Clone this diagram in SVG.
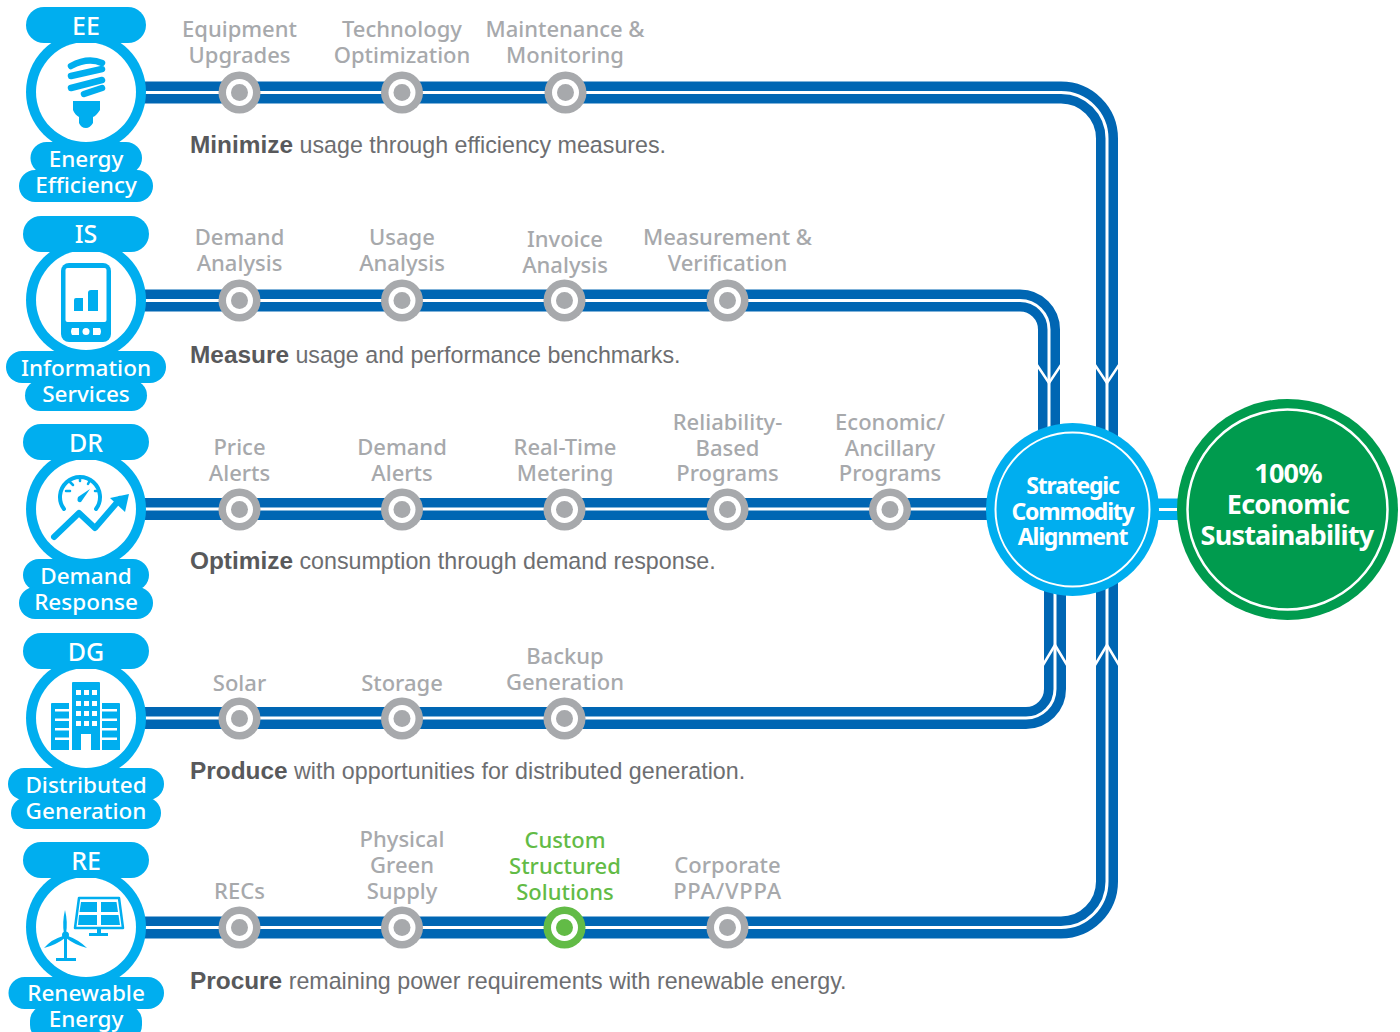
<svg xmlns="http://www.w3.org/2000/svg" width="1400" height="1032" viewBox="0 0 1400 1032">
<style>
text{font-family:"Noto Sans","Liberation Sans",sans-serif}
.l{font-size:22px;font-weight:500;fill:#a7a9ac;text-anchor:middle}
.g{fill:#62bb46}
.p{font-size:22.500px;font-weight:500;fill:#fff;text-anchor:middle}
.t{font-size:25px}
.d{font-family:"Liberation Sans",sans-serif;font-size:23.250px;fill:#6d6e71}
.d tspan{font-size:24.400px;font-weight:700;fill:#58595b}
.c{font-size:23px;letter-spacing:-1.200px;font-weight:700;fill:#fff;text-anchor:middle}
.e{font-size:27px;letter-spacing:-.8px}
.cy{fill:#00aeef}.wh{fill:#fff}
.b{fill:none;stroke:#0066b3;stroke-width:22}
.w{fill:none;stroke:#fff;stroke-width:3}
.v{fill:none;stroke:#fff;stroke-width:2.500}
.s{fill:#a7a9ac}
.sg{fill:#62bb46}
.ic{fill:#00aeef;stroke:none}
.il{fill:none;stroke:#00aeef;stroke-linecap:round;stroke-linejoin:round}
.ppa{letter-spacing:.8px}
</style>
<defs>
<g id="st"><circle r="21"/><circle r="13.500" fill="#fff"/><circle r="8.500"/></g>
<path id="lines" d="M140 92.500H1061A46 46 0 0 1 1107 138.500V440M140 300.500H1020A29 29 0 0 1 1049 329.500V440M140 509H1000M140 718H1026A29 29 0 0 0 1055 689V580M140 927.500H1061A46 46 0 0 0 1107 881.500V580"/>
</defs>
<g id="connectors">
<use href="#lines" class="b"/>
<use href="#lines" class="w"/>
<path class="v" d="M1095 365L1107 383L1119 365M1037 365L1049 383L1061 365M1043 665L1055 645L1067 665M1095 665L1107 645L1119 665"/>
<path d="M1150 498.500H1185V520H1150z" fill="#00aeef"/>
<path d="M1150 509.500H1185" class="w"/>
</g>
<g id="stations-ee" class="s"><use href="#st" x="239.500" y="92.500"/><use href="#st" x="402" y="92.500"/><use href="#st" x="565.500" y="92.500"/></g>
<g id="stations-is" class="s"><use href="#st" x="239.500" y="300.500"/><use href="#st" x="402" y="300.500"/><use href="#st" x="564.500" y="300.500"/><use href="#st" x="727.500" y="300.500"/></g>
<g id="stations-dr" class="s"><use href="#st" x="239.500" y="509.500"/><use href="#st" x="402" y="509.500"/><use href="#st" x="564.500" y="509.500"/><use href="#st" x="727.500" y="509.500"/><use href="#st" x="890" y="509.500"/></g>
<g id="stations-dg" class="s"><use href="#st" x="239.500" y="718.500"/><use href="#st" x="402" y="718.500"/><use href="#st" x="564.500" y="718.500"/></g>
<g id="stations-re" class="s"><use href="#st" x="239.500" y="927.500"/><use href="#st" x="402" y="927.500"/><use href="#st" x="564.500" y="927.500" class="sg"/><use href="#st" x="727.500" y="927.500"/></g>
<g id="labels">
<text class="l" x="239.500" y="37">Equipment</text><text class="l" x="239.500" y="63">Upgrades</text>
<text class="l" x="402" y="37">Technology</text><text class="l" x="402" y="63">Optimization</text>
<text class="l" x="565" y="37">Maintenance &amp;</text><text class="l" x="565" y="63">Monitoring</text>
<text class="l" x="239.500" y="245">Demand</text><text class="l" x="239.500" y="271">Analysis</text>
<text class="l" x="402" y="245">Usage</text><text class="l" x="402" y="271">Analysis</text>
<text class="l" x="565" y="247">Invoice</text><text class="l" x="565" y="273">Analysis</text>
<text class="l" x="727.500" y="245">Measurement &amp;</text><text class="l" x="727.500" y="271">Verification</text>
<text class="l" x="239.500" y="455">Price</text><text class="l" x="239.500" y="481">Alerts</text>
<text class="l" x="402" y="455">Demand</text><text class="l" x="402" y="481">Alerts</text>
<text class="l" x="565" y="455">Real-Time</text><text class="l" x="565" y="481">Metering</text>
<text class="l" x="727.500" y="430">Reliability-</text><text class="l" x="727.500" y="456">Based</text><text class="l" x="727.500" y="481">Programs</text>
<text class="l" x="890" y="430">Economic/</text><text class="l" x="890" y="456">Ancillary</text><text class="l" x="890" y="481">Programs</text>
<text class="l" x="239.500" y="691">Solar</text>
<text class="l" x="402" y="691">Storage</text>
<text class="l" x="565" y="664">Backup</text><text class="l" x="565" y="690">Generation</text>
<text class="l" x="239.500" y="899">RECs</text>
<text class="l" x="402" y="847">Physical</text><text class="l" x="402" y="873">Green</text><text class="l" x="402" y="899">Supply</text>
<text class="l g" x="565" y="848">Custom</text><text class="l g" x="565" y="874">Structured</text><text class="l g" x="565" y="900">Solutions</text>
<text class="l" x="727.500" y="873">Corporate</text><text class="l ppa" x="727.500" y="899">PPA/VPPA</text>
</g>
<g id="descriptions">
<text class="d" x="190" y="153"><tspan>Minimize</tspan> usage through efficiency measures.</text>
<text class="d" x="190" y="363"><tspan>Measure</tspan> usage and performance benchmarks.</text>
<text class="d" x="190" y="569"><tspan>Optimize</tspan> consumption through demand response.</text>
<text class="d" x="190" y="779"><tspan>Produce</tspan> with opportunities for distributed generation.</text>
<text class="d" x="190" y="989"><tspan>Procure</tspan> remaining power requirements with renewable energy.</text>
</g>
<g id="node-ee">
<circle class="cy" cx="86" cy="92" r="60"/><circle class="wh" cx="86" cy="92" r="50"/>
<rect class="cy" x="26" y="7" width="120" height="36" rx="18"/>
<rect class="cy" x="30.500" y="142" width="111.500" height="32" rx="16"/>
<rect class="cy" x="19" y="170" width="134" height="32" rx="16"/>
<path class="il" stroke-width="6.500" d="M71 66Q88 57 102 63M71 76L102 69M71 88L102 80M84 94L102 88"/>
<path class="ic" d="M73 101H100V110Q96 116 93 117V123Q90 128 86 128Q81 128 79 123V117Q75 115 73 110z"/>
<text class="p t" x="86" y="35">EE</text><text class="p" x="86" y="167">Energy</text><text class="p" x="86" y="193">Efficiency</text>
</g>
<g id="node-is">
<circle class="cy" cx="86" cy="300" r="60"/><circle class="wh" cx="86" cy="300" r="50"/>
<rect class="cy" x="23" y="216" width="126" height="36" rx="18"/>
<rect class="cy" x="6" y="351" width="160" height="32" rx="16"/>
<rect class="cy" x="25" y="380" width="122" height="31" rx="15.500"/>
<rect class="cy" x="61" y="263" width="50" height="79" rx="8"/>
<rect class="wh" x="65.500" y="268" width="41" height="54" rx="2"/>
<path class="ic" d="M74 300Q74 298 76 298H83V311H74zM88 293Q88 290 91 290H98V311H88z"/>
<circle class="wh" cx="86" cy="331.500" r="3.500"/><path class="wh" d="M72 328H79V335H72Q70 331.500 72 328zM93 328H100Q102 331.500 100 335H93z"/>
<text class="p t" x="86" y="243">IS</text><text class="p" x="86" y="376">Information</text><text class="p" x="86" y="402">Services</text>
</g>
<g id="node-dr">
<circle class="cy" cx="86" cy="509" r="60"/><circle class="wh" cx="86" cy="509" r="50"/>
<rect class="cy" x="23" y="424" width="126" height="36" rx="18"/>
<rect class="cy" x="23" y="559" width="126" height="32" rx="16"/>
<rect class="cy" x="19" y="587" width="134" height="32" rx="16"/>
<path class="il" stroke-width="4" d="M64 509A20 20 0 1 1 96 509"/>
<path class="il" stroke-width="2.500" d="M66 491H70M70 482L73 485M80 477V481M90 480L88 484M99 491H95"/>
<path class="ic" d="M90 489L81 502Q76 503 78 497z"/>
<path class="il" stroke-width="6" d="M54 537L79 513L95 528L120 499"/>
<path class="ic" d="M110 498L129 494L125 512z"/>
<text class="p t" x="86" y="452">DR</text><text class="p" x="86" y="584">Demand</text><text class="p" x="86" y="610">Response</text>
</g>
<g id="node-dg">
<circle class="cy" cx="86" cy="718" r="60"/><circle class="wh" cx="86" cy="718" r="50"/>
<rect class="cy" x="23" y="633" width="126" height="36" rx="18"/>
<rect class="cy" x="8" y="768" width="156" height="32" rx="16"/>
<rect class="cy" x="11" y="797" width="150" height="32" rx="16"/>
<path class="ic" d="M72 683Q72 682 73 682H99Q100 682 100 683V750H91V734H81V750H72zM51 704Q51 703 52 703H69V750H51zM102 703H119Q120 703 120 704V750H102z"/>
<path class="wh" d="M76 690h5v5h-5zM84 690h5v5h-5zM92 690h5v5h-5zM76 701h5v5h-5zM84 701h5v5h-5zM92 701h5v5h-5zM76 711h5v5h-5zM84 711h5v5h-5zM92 711h5v5h-5zM76 721h5v5h-5zM84 721h5v5h-5zM92 721h5v5h-5zM55 709h14v2.500H55zM55 718.500h14v2.500H55zM55 728h14v2.500H55zM55 737.500h14v2.500H55zM102 709h15v2.500h-15zM102 718.500h15v2.500h-15zM102 728h15v2.500h-15zM102 737.500h15v2.500h-15z"/>
<text class="p t" x="86" y="661">DG</text><text class="p" x="86" y="793">Distributed</text><text class="p" x="86" y="819">Generation</text>
</g>
<g id="node-re">
<circle class="cy" cx="86" cy="927" r="60"/><circle class="wh" cx="86" cy="927" r="50"/>
<rect class="cy" x="23" y="842" width="126" height="36" rx="18"/>
<rect class="cy" x="8.500" y="977" width="155.500" height="32" rx="16"/>
<rect class="cy" x="30" y="1005" width="112" height="36" rx="16"/>
<path class="il" stroke-width="2.500" d="M79 898H119L123 928H75z"/>
<path class="ic" d="M81 902H97V912H79.500zM101 902H116.500L118 912H101zM79 915H97V925H78zM101 915H118.500L120 925H101z"/>
<path class="ic" d="M97 927H101V933H108V936H89V933H97z"/>
<path class="ic" d="M65 910Q68 922 66 934H64Q62 922 65 910zM44 948Q52 939 63 936L65 938Q56 945 44 948zM87 948Q75 945 66 938L68 936Q79 940 87 948zM64 938H67V959H64zM56 958H76V961H56z"/>
<circle class="ic" cx="65.500" cy="935" r="3.500"/>
<text class="p t" x="86" y="870">RE</text><text class="p" x="86" y="1001">Renewable</text><text class="p" x="86" y="1027">Energy</text>
</g>
<g id="node-sca">
<circle class="cy" cx="1072.500" cy="509.500" r="86.500"/>
<circle cx="1072.500" cy="509.500" r="77" fill="none" stroke="#fff" stroke-width="2"/>
<text class="c" x="1072.500" y="494">Strategic</text><text class="c" x="1072.500" y="519.500">Commodity</text><text class="c" x="1072.500" y="544.500">Alignment</text>
</g>
<g id="node-sus">
<circle cx="1287.500" cy="509.500" r="110.500" fill="#009b4e"/>
<circle cx="1287.500" cy="509.500" r="100" fill="none" stroke="#fff" stroke-width="2.500"/>
<text class="c e" x="1288" y="483">100%</text><text class="c e" x="1288" y="514">Economic</text><text class="c e" x="1287" y="545">Sustainability</text>
</g>
</svg>
